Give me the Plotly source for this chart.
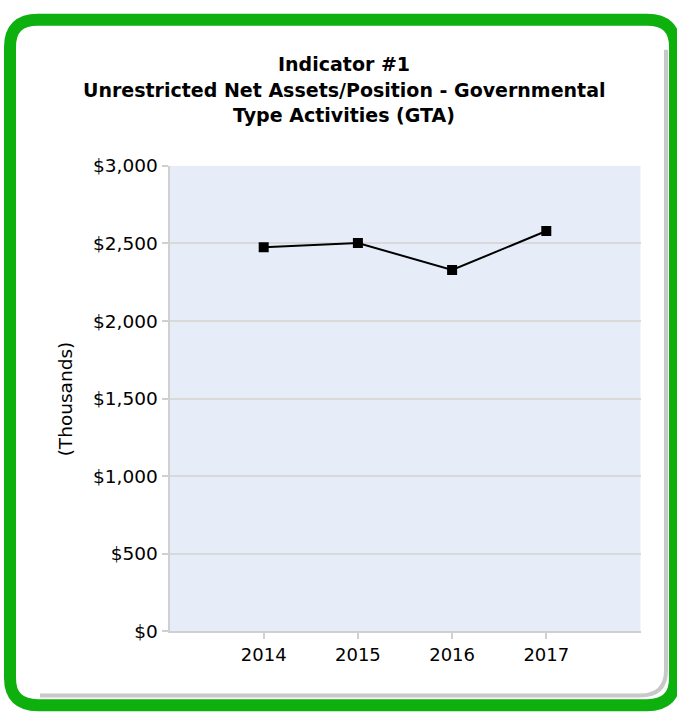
import plotly.graph_objects as go

years = [2014, 2015, 2016, 2017]
values = [2476, 2503, 2329, 2580]
y_ticks = [0, 500, 1000, 1500, 2000, 2500, 3000]
y_tick_labels = ["$0", "$500", "$1,000", "$1,500", "$2,000", "$2,500", "$3,000"]
title_lines = ["Indicator #1",
               "Unrestricted Net Assets/Position - Governmental",
               "Type Activities (GTA)"]
y_title = "(Thousands)"

W, H = 677, 721

def px(x):
    return x / W

def py(y):
    return 1 - y / H

def rounded_path(x0, y0, x1, y1, r):
    pts = [
        f"M {px(x0 + r)},{py(y0)}",
        f"L {px(x1 - r)},{py(y0)}",
        f"Q {px(x1)},{py(y0)} {px(x1)},{py(y0 + r)}",
        f"L {px(x1)},{py(y1 - r)}",
        f"Q {px(x1)},{py(y1)} {px(x1 - r)},{py(y1)}",
        f"L {px(x0 + r)},{py(y1)}",
        f"Q {px(x0)},{py(y1)} {px(x0)},{py(y1 - r)}",
        f"L {px(x0)},{py(y0 + r)}",
        f"Q {px(x0)},{py(y0)} {px(x0 + r)},{py(y0)}",
        "Z",
    ]
    return " ".join(pts)

def shadow_path(x1, y1, r, x0, y0):
    return (f"M {px(x1)},{py(y0)} L {px(x1)},{py(y1 - r)} "
            f"Q {px(x1)},{py(y1)} {px(x1 - r)},{py(y1)} L {px(x0)},{py(y1)}")

fig = go.Figure()
fig.add_trace(go.Scatter(
    x=years, y=values, mode="lines+markers",
    line=dict(color="black", width=2),
    marker=dict(symbol="square", size=10, color="black"),
    hoverinfo="skip", showlegend=False,
))

shapes = [
    dict(type="path", xref="paper", yref="paper",
         path=shadow_path(666, 705, 26, 40, 40),
         line=dict(color="#c8c8c8", width=4), layer="below"),
    dict(type="path", xref="paper", yref="paper",
         path=rounded_path(10, 9, 675, 715, 28),
         line=dict(color="#0db00d", width=12), layer="above"),
]

annotations = []
title_y = [55, 81, 107]
for t, yy in zip(title_lines, title_y):
    annotations.append(dict(
        text=f"<b>{t}</b>", x=px(344), y=py(yy), xref="paper", yref="paper",
        showarrow=False, xanchor="center", yanchor="middle",
        font=dict(family="DejaVu Sans", size=19, color="black")))
annotations.append(dict(
    text=y_title, x=px(65), y=py(400), xref="paper", yref="paper",
    showarrow=False, textangle=-90, xanchor="center", yanchor="middle",
    font=dict(family="DejaVu Sans", size=18.5, color="black")))

fig.update_layout(
    width=W, height=H,
    margin=dict(l=0, r=0, t=0, b=0),
    paper_bgcolor="white",
    plot_bgcolor="#e6edf9",
    font=dict(family="DejaVu Sans", size=18, color="black"),
    shapes=shapes,
    annotations=annotations,
    xaxis=dict(
        domain=[px(169.5), px(640.5)],
        range=[2013, 2018],
        tickmode="array", tickvals=years, ticktext=[str(y) for y in years],
        showgrid=False, zeroline=False,
        showline=True, linecolor="#d0d0d0", linewidth=2,
        ticks="outside", ticklen=6, tickcolor="#d0d0d0", tickwidth=2,
        tickfont=dict(size=18),
        fixedrange=True,
    ),
    yaxis=dict(
        domain=[py(639), py(159.5)],
        range=[0, 3000],
        tickmode="array", tickvals=y_ticks, ticktext=y_tick_labels,
        showgrid=True, gridcolor="#d9d9d9", gridwidth=2,
        zeroline=False,
        showline=True, linecolor="#d0d0d0", linewidth=2,
        ticks="outside", ticklen=6, tickcolor="#d0d0d0", tickwidth=2,
        tickfont=dict(size=18.5),
        fixedrange=True,
    ),
)

fig.write_html(
    "out.html",
    config={"displayModeBar": False, "staticPlot": True},
    post_script="document.body.style.margin='0px';document.body.style.overflow='hidden';",
)
